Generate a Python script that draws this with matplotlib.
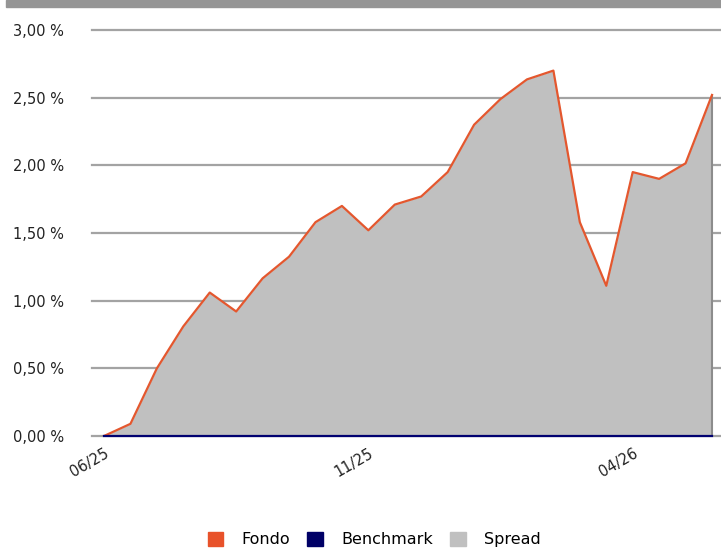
import matplotlib.pyplot as plt
from matplotlib.patches import Patch, Rectangle

# valores (quincenales, en %)
fondo = [0.00, 0.09, 0.50, 0.81, 1.06, 0.92, 1.165, 1.325, 1.58, 1.70, 1.52, 1.71,
         1.77, 1.95, 2.30, 2.49, 2.635, 2.70, 1.58, 1.11, 1.95, 1.90, 2.015, 2.52]
benchmark = [0.0] * len(fondo)
tick_idx = [0, 10, 20]
tick_labels = ["06/25", "11/25", "04/26"]
y_ticks = [0.0, 0.5, 1.0, 1.5, 2.0, 2.5, 3.0]

x = list(range(len(fondo)))
spread = [f - b for f, b in zip(fondo, benchmark)]

plt.rcParams['font.family'] = ['DejaVu Sans']
fig = plt.figure(figsize=(7.21, 5.49), dpi=100)
ax = fig.add_axes([92 / 721, 113 / 549, 629 / 721, 406 / 549])

# barra gris superior
fig.patches.append(Rectangle((6 / 721, 542 / 549), 1, 7 / 549, transform=fig.transFigure,
                             color='#959595', zorder=0))

for t in y_ticks:
    ax.axhline(t, color='#a3a3a3', lw=1.6, zorder=1, clip_on=False)

ax.fill_between(x, benchmark, fondo, color='#c0c0c0', lw=0, zorder=2)
ax.vlines(x[-1], 0, fondo[-1], color='#8c8c8c', lw=1.5, zorder=3)
ax.plot(x, fondo, color='#e4572e', lw=1.6, zorder=4)
ax.plot(x, benchmark, color='#000070', lw=1.6, zorder=5, clip_on=False)

ax.set_xlim(-0.454, 23.34)
ax.set_ylim(0, 3.0)
ax.set_yticks(y_ticks)
ax.set_yticklabels([f"{v:.2f}".replace(".", ",") + " %" for v in y_ticks])
ax.set_xticks(tick_idx)
ax.set_xticklabels(tick_labels, rotation=30, ha='right', va='top', rotation_mode='anchor')
ax.tick_params(axis='y', length=0, pad=20, labelsize=10.5, labelcolor='#222222')
ax.tick_params(axis='x', length=0, pad=7, labelsize=10.5, labelcolor='#222222')
for lbl in ax.get_xticklabels():
    lbl.set_x(lbl.get_position()[0] - 0.1)
for s in ax.spines.values():
    s.set_visible(False)
ax.patch.set_alpha(0)

handles = [Patch(color='#e8522a', label='Fondo'),
           Patch(color='#000066', label='Benchmark'),
           Patch(color='#c0c0c0', label='Spread')]
fig.legend(handles=handles, loc='center', bbox_to_anchor=(0.519, 0.017), ncol=3,
           frameon=False, fontsize=11.5, handlelength=0.95, handleheight=0.95,
           handletextpad=1.15, columnspacing=1.1, borderpad=0)

fig.savefig('out.png', dpi=100)
